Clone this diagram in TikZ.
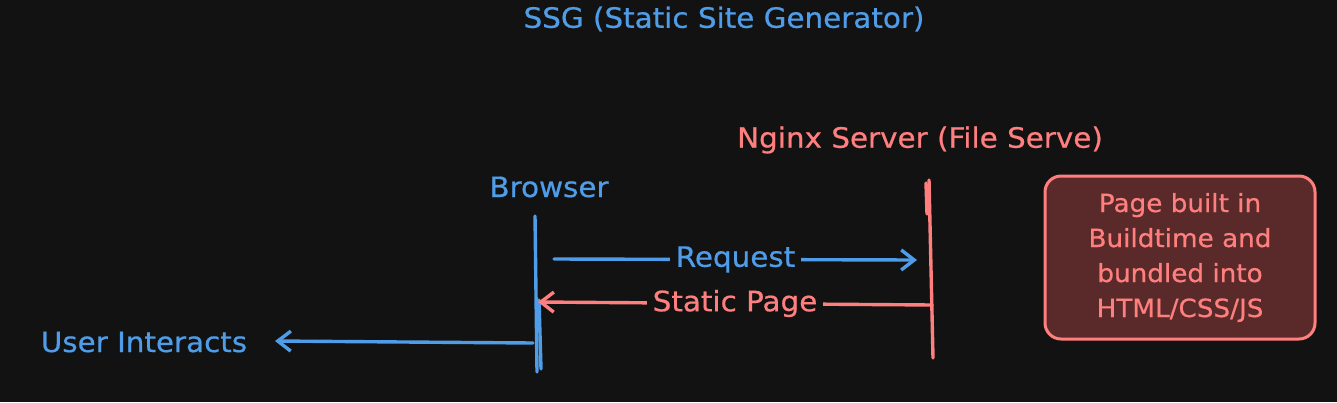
\documentclass[tikz,border=0pt]{standalone}
\usepackage{fontspec}
\setmainfont{DejaVu Sans}[FakeStretch=1.05, FakeBold=0.6]
\usetikzlibrary{arrows.meta}
\definecolor{bg}{HTML}{121212}
\definecolor{eblue}{HTML}{4F9DE8}
\definecolor{ered}{HTML}{FF7F7F}
\definecolor{boxfill}{HTML}{5A2A2A}
\tikzset{
  lbl/.style={font=\fontsize{28}{30}\selectfont, inner sep=0pt},
  bluetext/.style={lbl, text=eblue},
  redtext/.style={lbl, text=ered},
  bline/.style={draw=eblue, line width=3.4pt, line cap=round},
  rline/.style={draw=ered, line width=3.4pt, line cap=round},
  tip/.style={-{Straight Barb[length=13pt,width=20pt,line width=3.4pt]}},
  gap/.style={fill=bg, inner xsep=6pt, inner ysep=2pt, font=\fontsize{28}{30}\selectfont},
}
\begin{document}
\begin{tikzpicture}[x=1pt,y=-1pt]
\fill[bg] (0,0) rectangle (1337,402);
\useasboundingbox (0,0) rectangle (1337,402);

\node[bluetext] (title) at (724,19) {SSG (Static Site Generator)};
\node[redtext] (nginx) at (920,140) {Nginx Server (File Serve)};
\node[bluetext] (browser) at (549,187) {Browser};
\node[bluetext] (user) at (144,342) {User Interacts};

% lifelines
\coordinate (bT) at (535,216);
\coordinate (bB) at (537,372);
\coordinate (bT2) at (539,300);
\coordinate (bB2) at (541,369);
\draw[bline] (bT) -- (bB);
\draw[bline] (bT2) -- (bB2);
\coordinate (nT) at (929,180);
\coordinate (nB) at (933,358);
\coordinate (nT2) at (926,183);
\coordinate (nB2) at (927,214);
\draw[rline] (nT) -- (nB);
\draw[rline] (nT2) -- (nB2);

% messages
\coordinate (reqS) at (554,259);
\coordinate (reqE) at (917,260);
\draw[bline, tip] (reqS) -- node[gap, text=eblue] (reqL) {Request} (reqE);
\coordinate (spS) at (932,305);
\coordinate (spE) at (538,302);
\draw[rline, tip] (spS) -- node[gap, text=ered] (spL) {Static Page} (spE);
\coordinate (uiS) at (533,343);
\coordinate (uiE) at (275,341);
\draw[bline, tip] (uiS) -- (uiE);

% note box
\node[draw=ered, fill=boxfill, rounded corners=16pt, line width=3pt,
      minimum width=270pt, minimum height=163pt, align=center, text=ered,
      inner sep=0pt, font=\fontsize{25}{35}\selectfont] (note) at (1180,257.5)
  {Page built in\\Buildtime and\\bundled into\\HTML/CSS/JS};
\end{tikzpicture}
\end{document}
